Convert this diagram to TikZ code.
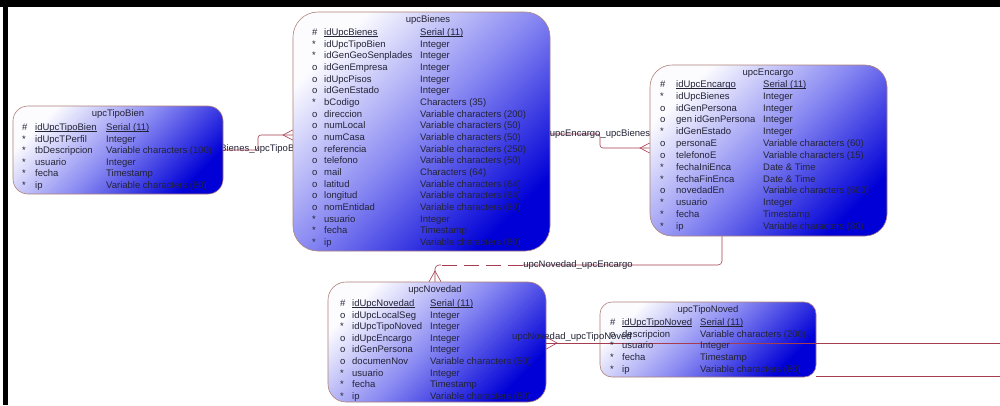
\documentclass[tikz,border=0pt]{standalone}
\usepackage{fontspec}
\setmainfont{Liberation Sans}
\definecolor{bord}{RGB}{175,130,120}
\definecolor{conn}{RGB}{165,60,80}
\definecolor{txtc}{RGB}{35,35,55}
\definecolor{shA}{RGB}{252,252,255}
\definecolor{shB}{RGB}{135,135,242}
\definecolor{shC}{RGB}{0,0,215}
\tikzset{
  tbox/.style={draw=bord, line width=0.6pt, top color=shA, bottom color=shC, middle color=shB, shading angle=45, inner sep=0pt},
  fld/.style={anchor=base west, inner sep=0pt, font=\fontsize{9.5}{11}\selectfont, text=txtc},
  ttl/.style={anchor=base, inner sep=0pt, font=\fontsize{9.5}{11}\selectfont, text=txtc},
  rel/.style={draw=conn, line width=0.6pt},
  rlab/.style={inner sep=0pt, font=\fontsize{9.5}{11}\selectfont, text=txtc},
}
\newcommand\myul[1]{\setbox0\hbox{#1}\rlap{\rule[-1.6pt]{\wd0}{0.55pt}}\box0}
\newcommand\erfields[7]{%
  \foreach \sy/\nm/\ty [count=\i from 0] in {#7}{%
    \pgfmathsetmacro\yy{#5+\i*#6+3.4}
    \node[fld] (#1-s\i) at (#2,\yy) {\sy};
    \node[fld] (#1-n\i) at (#3,\yy) {\ifnum\i=0 \myul{\nm}\else\nm\fi};
    \node[fld] (#1-t\i) at (#4,\yy) {\ifnum\i=0 \myul{\ty}\else\ty\fi};
  }}
\begin{document}
\begin{tikzpicture}[x=1pt,y=-1pt]
\useasboundingbox (0,0) rectangle (1000,405);
\fill[white] (0,0) rectangle (1000,405);
\fill[black] (0,0) rectangle (1000,7);
\fill[black] (3,0) rectangle (8,405);

% connector 1 label, behind boxes
\node[rlab] (l1) at (256,149) {upcBienes\_upcTipoBien};

\node[tbox, rounded corners=15pt, minimum width=210pt, minimum height=88pt] (tipobien) at (118,150) {};
\draw[rel, rounded corners=3pt] (tipobien.east) -- (258,150) -- (258,135) -- (293,135);

\node[tbox, rounded corners=25pt, minimum width=257pt, minimum height=239pt] (bienes) at (421.5,131.5) {};
\node[tbox, rounded corners=22pt, minimum width=237pt, minimum height=171pt] (encargo) at (768.5,150.5) {};
\node[tbox, rounded corners=18pt, minimum width=218pt, minimum height=120pt] (novedad) at (437,342) {};
\node[tbox, rounded corners=12pt, minimum width=216pt, minimum height=75pt] (tiponoved) at (708,339.5) {};

% crow's foot of connector 1
\draw[rel] (bienes.west |- 0,130) -- (283,135) -- (bienes.west |- 0,140);

% connector 2
\draw[rel, rounded corners=3pt] (bienes.east |- 0,134) -- (600,134) -- (600,148) -- (encargo.west |- 0,148);
\draw[rel] (encargo.west |- 0,143) -- (640,148) -- (encargo.west |- 0,153);
\node[rlab] (l2) at (600,134) {upcEncargo\_upcBienes};

% connector 3
\coordinate (m3) at (523,265);
\draw[rel, rounded corners=4pt] (encargo.south -| 722,0) -- (722,265) -- (m3);
\draw[rel, dash pattern=on 15pt off 7pt] (m3) -- (441,265);
\draw[rel, rounded corners=4pt] (441,265) -- (435,265) -- (novedad.north -| 435,0);
\draw[rel] (novedad.north -| 429,0) -- (435,271) -- (novedad.north -| 441,0);
\node[rlab] (l3) at (578,265.5) {upcNovedad\_upcEncargo};

% connector 4
\coordinate (e4) at (1000,343);
\draw[rel] (novedad.east |- 0,343) -- (e4);
\draw[rel] (novedad.east |- 0,337) -- (557,343) -- (novedad.east |- 0,349);

% connector 5
\coordinate (e5) at (1000,376);
\draw[rel] (tiponoved.east |- 0,376) -- (e5);

% titles
\node[ttl] (tbT) at (118,116.4) {upcTipoBien};
\node[ttl] (biT) at (428,22.4) {upcBienes};
\node[ttl] (enT) at (768,75.4) {upcEncargo};
\node[ttl] (noT) at (435,292.4) {upcNovedad};
\node[ttl] (tnT) at (708,312.4) {upcTipoNoved};

% fields
\erfields{tb}{22}{35}{106}{127}{11.6}{\#/idUpcTipoBien/Serial (11), */idUpcTPerfil/Integer, */tbDescripcion/Variable characters (100), */usuario/Integer, */fecha/Timestamp, */ip/Variable characters (80)}

\erfields{bi}{312}{324}{420}{32}{11.67}{\#/idUpcBienes/Serial (11), */idUpcTipoBien/Integer, */idGenGeoSenplades/Integer, o/idGenEmpresa/Integer, o/idUpcPisos/Integer, o/idGenEstado/Integer, */bCodigo/Characters (35), o/direccion/Variable characters (200), o/numLocal/Variable characters (50), o/numCasa/Variable characters (50), o/referencia/Variable characters (250), o/telefono/Variable characters (50), o/mail/Characters (64), o/latitud/Variable characters (64), o/longitud/Variable characters (64), o/nomEntidad/Variable characters (80), */usuario/Integer, */fecha/Timestamp, */ip/Variable characters (80)}

\erfields{en}{660}{676}{763}{84}{11.83}{\#/idUpcEncargo/Serial (11), */idUpcBienes/Integer, o/idGenPersona/Integer, o/gen idGenPersona/Integer, */idGenEstado/Integer, o/personaE/Variable characters (60), o/telefonoE/Variable characters (15), */fechaIniEnca/Date \& Time, */fechaFinEnca/Date \& Time, o/novedadEn/Variable characters (600), */usuario/Integer, */fecha/Timestamp, */ip/Variable characters (80)}

\erfields{no}{340}{352}{430}{303}{11.6}{\#/idUpcNovedad/Serial (11), o/idUpcLocalSeg/Integer, */idUpcTipoNoved/Integer, o/idUpcEncargo/Integer, o/idGenPersona/Integer, o/documenNov/Variable characters (50), */usuario/Integer, */fecha/Timestamp, */ip/Variable characters (80)}

\erfields{tn}{610}{622}{700}{322}{11.7}{\#/idUpcTipoNoved/Serial (11), o/descripcion/Variable characters (200), */usuario/Integer, */fecha/Timestamp, */ip/Variable characters (80)}

% label of connector 4 on top
\node[rlab] (l4) at (572,337) {upcNovedad\_upcTipoNoved};
\end{tikzpicture}
\end{document}
